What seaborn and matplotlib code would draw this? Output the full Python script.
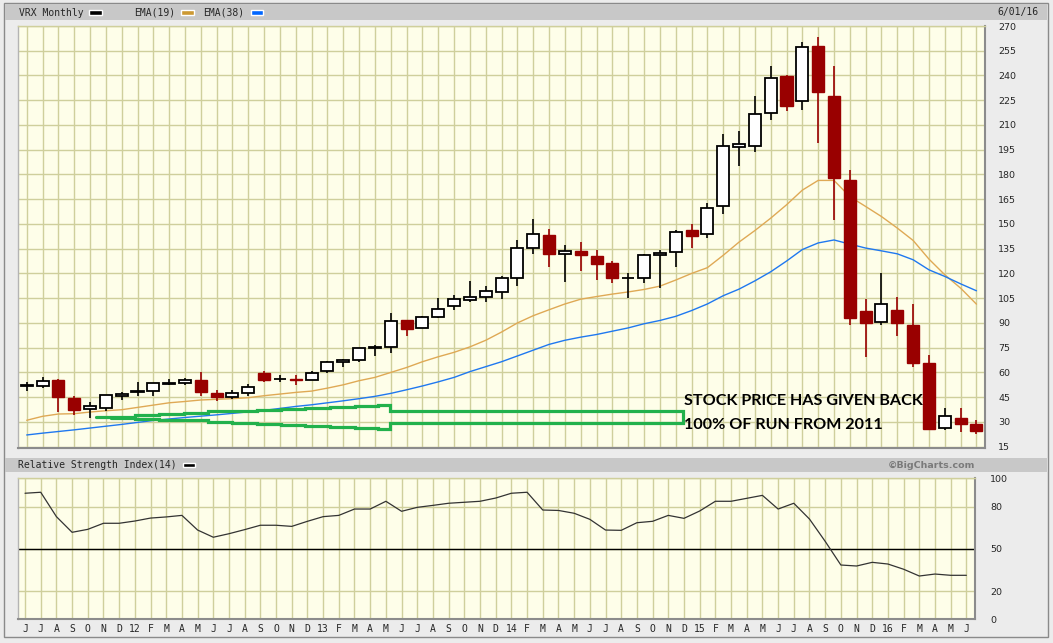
import numpy as np
import pandas as pd
import matplotlib
matplotlib.use("Agg")
import matplotlib.pyplot as plt
from matplotlib.patches import Rectangle
import seaborn as sns

# month axis, Jun 2011 .. Jun 2016
month_labels = ["J", "J", "A", "S", "O", "N", "D", "12", "F", "M", "A", "M",
                "J", "J", "A", "S", "O", "N", "D", "13", "F", "M", "A", "M",
                "J", "J", "A", "S", "O", "N", "D", "14", "F", "M", "A", "M",
                "J", "J", "A", "S", "O", "N", "D", "15", "F", "M", "A", "M",
                "J", "J", "A", "S", "O", "N", "D", "16", "F", "M", "A", "M", "J"]

# monthly OHLC
open_px = [52.0, 51.5, 55.6, 44.7, 37.8, 38.2, 45.5, 48.0, 48.5, 53.0, 53.6, 55.6,
           47.5, 44.9, 47.5, 59.6, 55.8, 56.0, 55.4, 60.8, 66.3, 67.5, 75.0, 75.4,
           91.9, 86.9, 93.9, 100.0, 103.9, 105.7, 108.7, 117.2, 135.3, 143.4, 131.9, 133.7,
           130.3, 126.4, 117.0, 117.2, 131.1, 132.9, 146.4, 144.0, 160.6, 196.9, 197.5, 217.1,
           239.7, 224.4, 257.9, 227.6, 176.7, 97.4, 90.5, 98.0, 88.9, 65.7, 26.3, 32.4, 28.9]
high_px = [54.5, 57.2, 56.2, 46.0, 41.8, 46.3, 48.0, 54.4, 53.5, 56.0, 56.6, 60.4,
           49.5, 49.5, 53.0, 61.0, 58.6, 58.2, 61.0, 67.1, 68.3, 74.8, 76.8, 96.3,
           91.9, 94.3, 105.0, 107.0, 115.5, 112.5, 118.6, 140.4, 153.0, 147.0, 137.3, 139.0,
           134.3, 127.8, 120.2, 131.7, 134.3, 146.4, 150.0, 162.6, 204.6, 206.4, 227.6, 245.8,
           240.0, 260.0, 263.5, 245.8, 182.8, 104.6, 120.0, 105.9, 101.6, 70.7, 38.4, 38.4, 31.4]
low_px = [49.0, 50.7, 35.8, 34.0, 32.2, 36.6, 43.0, 45.5, 45.5, 52.4, 52.2, 45.5,
          42.4, 43.9, 45.5, 54.2, 54.0, 52.2, 55.4, 59.6, 63.6, 66.3, 69.7, 71.8,
          81.8, 86.9, 93.3, 98.0, 103.0, 102.4, 104.6, 112.1, 131.7, 124.2, 114.8, 121.6,
          116.2, 114.5, 105.4, 114.1, 111.1, 123.9, 135.3, 141.4, 156.0, 185.4, 193.9, 213.1,
          218.5, 219.1, 199.3, 152.5, 88.5, 69.3, 88.5, 81.8, 63.6, 25.3, 24.9, 23.7, 22.7]
close_px = [52.2, 54.8, 45.1, 37.0, 39.8, 46.3, 47.1, 48.5, 53.3, 53.5, 55.4, 48.3,
            45.1, 47.5, 51.2, 55.2, 56.0, 55.6, 59.6, 66.3, 67.7, 74.8, 75.6, 90.9,
            86.3, 93.5, 98.4, 104.5, 105.7, 109.5, 117.2, 135.3, 144.2, 131.7, 133.7, 130.9,
            126.0, 117.0, 117.3, 131.1, 132.7, 145.0, 143.0, 159.6, 197.3, 198.5, 216.5, 238.3,
            221.7, 257.1, 230.2, 178.1, 93.3, 89.7, 101.4, 89.7, 65.5, 25.9, 33.4, 28.8, 24.7]

ema19 = [31.0, 33.4, 34.8, 35.0, 36.0, 36.8, 37.4, 38.8, 40.2, 41.6, 42.4, 43.3,
         43.7, 44.1, 44.7, 45.9, 46.9, 47.9, 48.7, 50.5, 52.5, 55.0, 57.0, 60.0,
         63.0, 66.5, 69.5, 72.2, 75.5, 79.5, 84.5, 90.0, 94.4, 98.0, 101.5, 104.4,
         106.0, 107.5, 108.8, 110.3, 112.3, 116.0, 120.0, 123.5, 131.0, 139.0, 146.0, 153.5,
         161.6, 170.5, 176.4, 176.4, 166.6, 160.6, 154.5, 147.5, 140.0, 128.7, 119.2, 111.1, 101.4]
ema38 = [22.1, 23.2, 24.2, 25.2, 26.3, 27.4, 28.5, 29.7, 30.9, 31.8, 32.7, 33.5,
         34.3, 35.2, 36.1, 37.0, 38.2, 39.4, 40.4, 41.6, 42.8, 44.1, 45.5, 47.3,
         49.5, 51.8, 54.3, 57.0, 60.5, 63.5, 66.5, 70.0, 73.5, 77.0, 79.5, 81.4,
         83.0, 85.0, 87.0, 89.5, 91.5, 94.0, 97.5, 101.5, 106.5, 110.5, 115.5, 121.0,
         127.5, 134.5, 138.5, 140.3, 137.8, 135.4, 133.7, 131.9, 128.3, 122.2, 118.2, 113.7, 109.5]

rsi14 = [89.4, 90.1, 72.8, 61.7, 63.8, 68.1, 68.1, 69.7, 71.8, 72.6, 73.7, 63.3,
         58.2, 60.7, 63.6, 66.7, 66.7, 65.9, 69.5, 72.8, 73.7, 78.2, 78.2, 83.7,
         76.6, 79.4, 80.8, 82.3, 83.0, 83.7, 86.0, 89.4, 90.1, 77.5, 77.2, 75.2,
         70.9, 63.3, 63.1, 68.5, 69.5, 73.7, 71.6, 76.8, 83.7, 83.7, 85.8, 87.9,
         78.2, 82.3, 71.1, 55.3, 38.5, 37.8, 40.4, 39.2, 35.5, 30.7, 32.1, 31.2, 31.2]

# hand-drawn green marker (step edges in months, levels in $)
upper_edges = [4.4, 6.84, 8.36, 9.94, 11.47, 12.95, 14.53, 16.06, 17.58, 19.16, 20.74, 22.2, 22.95]
upper_levels = [33.0, 34.2, 35.0, 35.6, 36.4, 36.8, 37.4, 38.0, 38.4, 39.0, 39.5, 40.4]
lower_edges = [5.33, 6.84, 8.36, 9.94, 11.47, 12.95, 14.53, 16.06, 17.58, 19.16, 20.74, 22.2, 22.95]
lower_levels = [32.4, 31.8, 31.4, 31.0, 30.2, 29.4, 28.8, 28.2, 27.6, 27.0, 26.4, 25.8]
box_left, box_right, box_top, box_bottom = 22.95, 41.48, 36.4, 29.4

df = pd.DataFrame({"m": np.arange(len(month_labels)), "open": open_px, "high": high_px,
                   "low": low_px, "close": close_px, "ema19": ema19, "ema38": ema38,
                   "rsi": rsi14})

sns.set_style("white")
plt.rcParams["font.family"] = ["DejaVu Sans"]

W, H = 1053, 643
fig = plt.figure(figsize=(W / 100, H / 100), dpi=100, facecolor="#ececec")


def fx(x):
    return x / W


def fy(y):
    return 1 - y / H


# frame and header bars
fig.patches.append(Rectangle((fx(4), fy(637)), fx(1044), 634 / H, transform=fig.transFigure,
                             fc="none", ec="#8a8a8a", lw=1))
for y0, y1 in [(4, 20), (458, 472)]:
    fig.patches.append(Rectangle((fx(5), fy(y1)), fx(1042), (y1 - y0) / H,
                                 transform=fig.transFigure, fc="#c8c8c8", ec="none"))

grid_c = "#cfcf9c"
bg_c = "#fefee9"
red = "#990000"

# ---- price panel ----
ax = fig.add_axes([fx(18), fy(448), fx(985) - fx(18), fy(26) - fy(448)])
ax.set_facecolor(bg_c)
ax.set_xlim(-0.55, 60.54)
ax.set_ylim(14.2, 270)
ax.set_yticks(range(15, 271, 15))
ax.set_xticks(df["m"])
ax.grid(True, color=grid_c, lw=1.0)
ax.set_axisbelow(True)

up = df["close"] >= df["open"]
wick_c = np.where(up, "black", red)
ax.vlines(df["m"], df["low"], df["high"], colors=wick_c, lw=1.2, zorder=3)
body_lo = np.minimum(df["open"], df["close"])
body_h = np.maximum(np.abs(df["close"] - df["open"]), 0.3)
ax.bar(df["m"][up], body_h[up], bottom=body_lo[up], width=0.76,
       color="white", edgecolor="black", lw=1.3, zorder=4)
ax.bar(df["m"][~up], body_h[~up], bottom=body_lo[~up], width=0.76,
       color=red, edgecolor=red, lw=1.0, zorder=4)

sns.lineplot(data=df, x="m", y="ema19", ax=ax, color="#dfa955", lw=1.0, zorder=2)
sns.lineplot(data=df, x="m", y="ema38", ax=ax, color="#1f78f0", lw=1.0, zorder=2)

# green outline
gx, gy = [], []
for i, lv in enumerate(upper_levels):
    gx += [upper_edges[i], upper_edges[i + 1]]
    gy += [lv, lv]
gx += [box_left, box_right, box_right, box_left, box_left]
gy += [box_top, box_top, box_bottom, box_bottom, lower_levels[-1]]
for i in range(len(lower_levels) - 1, -1, -1):
    gx += [lower_edges[i + 1], lower_edges[i]]
    gy += [lower_levels[i], lower_levels[i]]
ax.plot(gx, gy, color="#22b14c", lw=2.3, solid_joinstyle="miter", zorder=5)

ax.text(41.5, 42.4, "STOCK PRICE HAS GIVEN BACK", family="Lato", weight="bold",
        fontsize=11.6, color="black", va="center", ha="left", zorder=6)
ax.text(41.55, 28.3, "100% OF RUN FROM 2011", family="Lato", weight="bold",
        fontsize=11.6, color="black", va="center", ha="left", zorder=6)

ax.set_xlabel("")
ax.set_ylabel("")
ax.yaxis.tick_right()
ax.tick_params(axis="y", length=0, pad=9.5, labelsize=6.8)
ax.tick_params(axis="x", length=0, labelbottom=False)
for side, c in [("left", "#b4b4b4"), ("top", grid_c), ("bottom", "#8c8c8c"), ("right", "#8c8c8c")]:
    ax.spines[side].set_color(c)
    ax.spines[side].set_linewidth(1.5 if side in ("bottom", "right") else 1.0)

# ---- RSI panel ----
rax = fig.add_axes([fx(17.5), fy(619.3), fx(975) - fx(17.5), fy(478.3) - fy(619.3)])
rax.set_facecolor(bg_c)
rax.set_xlim(-0.48, 60.55)
rax.set_ylim(0, 100)
rax.set_yticks([0, 20, 50, 80, 100])
rax.set_xticks(df["m"])
rax.set_xticklabels(month_labels, family="DejaVu Sans Mono", fontsize=7)
rax.grid(True, color=grid_c, lw=1.0)
rax.set_axisbelow(True)
rax.axhline(50, color="black", lw=1.0, zorder=2)
sns.lineplot(data=df, x="m", y="rsi", ax=rax, color="#333333", lw=0.9, zorder=3)
rax.set_xlabel("")
rax.set_ylabel("")
rax.yaxis.tick_right()
rax.tick_params(axis="y", length=0, pad=11, labelsize=6.8)
rax.tick_params(axis="x", length=0, pad=3.5)
for side, c in [("left", "#b4b4b4"), ("top", grid_c), ("bottom", "#8c8c8c"), ("right", "#8c8c8c")]:
    rax.spines[side].set_color(c)
    rax.spines[side].set_linewidth(1.5 if side in ("bottom", "right") else 1.0)

# ---- header texts ----
mono = "DejaVu Sans Mono"
fig.text(fx(19), fy(12.5), "VRX Monthly", family=mono, fontsize=7, va="center")
fig.text(fx(134), fy(12.5), "EMA(19)", family=mono, fontsize=7, va="center")
fig.text(fx(203), fy(12.5), "EMA(38)", family=mono, fontsize=7, va="center")
fig.text(fx(1038), fy(12.5), "6/01/16", family=mono, fontsize=7, va="center", ha="right")
for x0, x1, c in [(89, 101.5, "black"), (181, 194, "#cc9933"), (250.5, 262.5, "#0066ff")]:
    fig.patches.append(Rectangle((fx(x0), fy(14.8)), fx(x1 - x0), 4.5 / H,
                                 transform=fig.transFigure, fc=c, ec="white", lw=1))
fig.text(fx(18), fy(465), "Relative Strength Index(14)", family=mono, fontsize=7, va="center")
fig.patches.append(Rectangle((fx(183), fy(466.8)), fx(11.5), 3.5 / H,
                             transform=fig.transFigure, fc="black", ec="white", lw=1))
fig.text(fx(975), fy(465), "\u00a9BigCharts.com", fontsize=6.8, weight="bold",
         color="#7a7a7a", va="center", ha="right")

fig.savefig("out.png", dpi=100, facecolor=fig.get_facecolor())
